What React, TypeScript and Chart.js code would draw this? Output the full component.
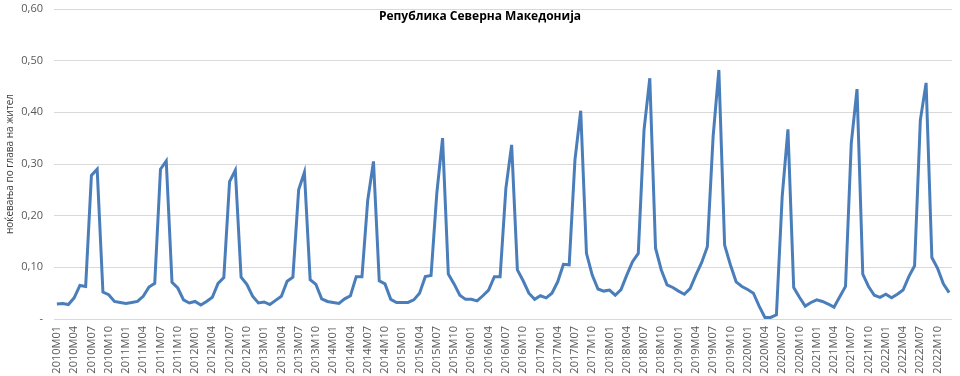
import React, { useEffect, useRef } from "react";
import { Chart, registerables } from "chart.js";

Chart.register(...registerables);

const years = [2010, 2011, 2012, 2013, 2014, 2015, 2016, 2017, 2018, 2019, 2020, 2021, 2022];
const months = ["M01", "M02", "M03", "M04", "M05", "M06", "M07", "M08", "M09", "M10", "M11", "M12"];

const v2010 = [0.029, 0.030, 0.028, 0.041, 0.065, 0.063, 0.278, 0.290, 0.052, 0.047, 0.034, 0.032];
const v2011 = [0.030, 0.032, 0.034, 0.044, 0.062, 0.069, 0.290, 0.306, 0.071, 0.060, 0.037, 0.031];
const v2012 = [0.034, 0.027, 0.034, 0.042, 0.069, 0.080, 0.266, 0.288, 0.081, 0.067, 0.044, 0.031];
const v2013 = [0.033, 0.028, 0.036, 0.044, 0.073, 0.081, 0.250, 0.284, 0.076, 0.067, 0.039, 0.034];
const v2014 = [0.032, 0.030, 0.039, 0.045, 0.082, 0.082, 0.230, 0.305, 0.074, 0.068, 0.038, 0.032];
const v2015 = [0.032, 0.032, 0.037, 0.050, 0.082, 0.084, 0.243, 0.350, 0.087, 0.068, 0.046, 0.038];
const v2016 = [0.038, 0.035, 0.045, 0.056, 0.082, 0.082, 0.253, 0.337, 0.095, 0.074, 0.050, 0.038];
const v2017 = [0.045, 0.041, 0.050, 0.072, 0.106, 0.105, 0.308, 0.403, 0.127, 0.085, 0.058, 0.054];
const v2018 = [0.056, 0.046, 0.057, 0.085, 0.111, 0.127, 0.366, 0.466, 0.137, 0.095, 0.066, 0.061];
const v2019 = [0.054, 0.048, 0.059, 0.085, 0.109, 0.140, 0.353, 0.482, 0.143, 0.105, 0.072, 0.063];
const v2020 = [0.057, 0.050, 0.025, 0.003, 0.003, 0.008, 0.237, 0.367, 0.061, 0.042, 0.025, 0.032];
const v2021 = [0.037, 0.034, 0.029, 0.023, 0.043, 0.063, 0.340, 0.445, 0.087, 0.063, 0.046, 0.042];
const v2022 = [0.048, 0.041, 0.048, 0.056, 0.082, 0.103, 0.385, 0.457, 0.119, 0.098, 0.068, 0.051];

const yearValues = [v2010, v2011, v2012, v2013, v2014, v2015, v2016, v2017, v2018, v2019, v2020, v2021, v2022];

const TITLE = "Република Северна Македонија";
const Y_TITLE = "ноќевања по глава на жител";

export default function App() {
  const ref = useRef<HTMLCanvasElement>(null);

  useEffect(() => {
    if (!ref.current) return;
    const labels: string[] = [];
    years.forEach((y) => months.forEach((m) => labels.push(`${y}${m}`)));
    const values: number[] = [];
    yearValues.forEach((arr) => arr.forEach((v) => values.push(v)));

    const titlePlugin = {
      id: "insideTitle",
      afterDraw(chart: any) {
        const ctx = chart.ctx;
        ctx.save();
        ctx.font = "bold 12px 'Open Sans'";
        ctx.fillStyle = "#000000";
        ctx.textAlign = "center";
        ctx.textBaseline = "middle";
        ctx.fillText(TITLE, 480, 17);
        ctx.restore();
      },
    };

    const chart = new Chart(ref.current, {
      type: "line",
      data: {
        labels,
        datasets: [
          {
            data: values,
            borderColor: "#4a7ebb",
            borderWidth: 3,
            pointRadius: 0,
            tension: 0,
            fill: false,
          },
        ],
      },
      options: {
        animation: false,
        responsive: true,
        maintainAspectRatio: false,
        layout: { padding: { top: 9, right: 8, left: 0, bottom: 0 } },
        plugins: {
          legend: { display: false },
          tooltip: { enabled: false },
        },
        scales: {
          x: {
            offset: true,
            grid: { display: false, drawTicks: false },
            border: { display: false },
            ticks: {
              autoSkip: false,
              maxRotation: 90,
              minRotation: 90,
              padding: 7,
              color: "#595959",
              font: { family: "'Open Sans'", size: 11 },
              callback: function (_v: any, i: number) {
                return i % 3 === 0 ? labels[i] : "";
              },
            },
            afterFit: (s: any) => {
              s.height = 57;
              s.paddingLeft = 0;
              s.paddingRight = 0;
            },
          },
          y: {
            min: 0,
            max: 0.6,
            grid: { color: "#d9d9d9", lineWidth: 1, drawTicks: false },
            border: { display: false },
            ticks: {
              stepSize: 0.1,
              padding: 11,
              color: "#595959",
              font: { family: "'Open Sans'", size: 11 },
              callback: (v: any) => (Number(v) === 0 ? "-" : Number(v).toFixed(2).replace(".", ",")),
            },
            title: {
              display: true,
              text: Y_TITLE,
              color: "#404040",
              font: { family: "'Open Sans'", size: 10 },
              padding: { top: 4, bottom: 0 },
            },
            afterFit: (s: any) => {
              s.width = 54;
              s.paddingTop = 0;
              s.paddingBottom = 0;
            },
          },
        },
      },
      plugins: [titlePlugin],
    });
    return () => chart.destroy();
  }, []);

  return (
    <div style={{ position: "fixed", left: 0, top: 0, width: 960, height: 376, background: "#fff" }}>
      <canvas ref={ref} />
    </div>
  );
}
